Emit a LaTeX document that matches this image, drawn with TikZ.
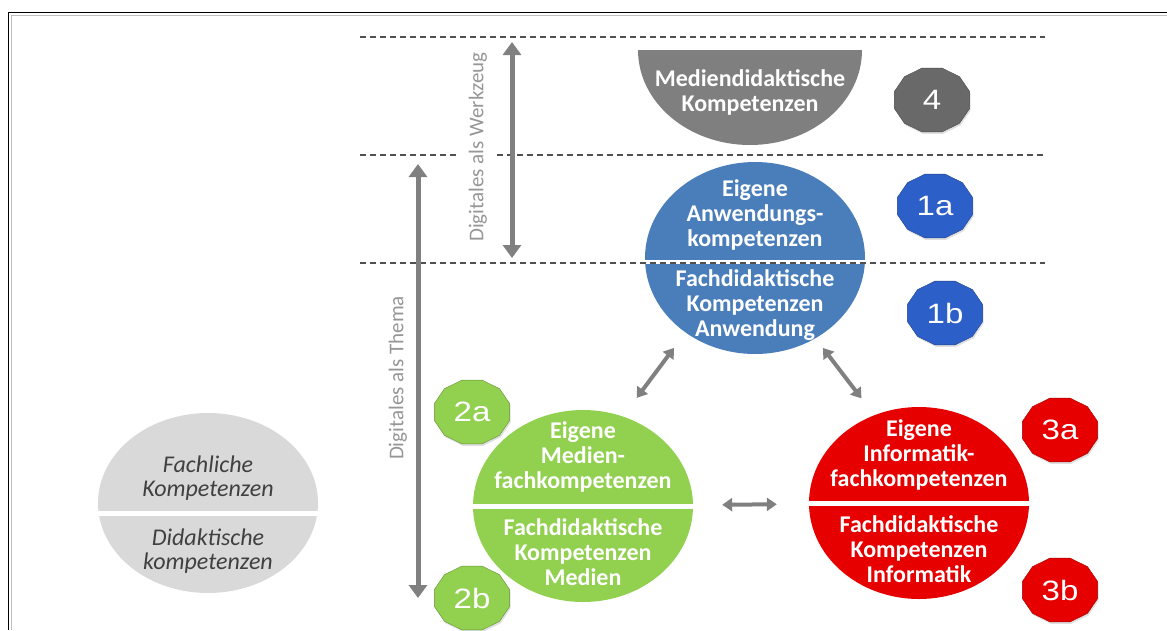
\documentclass[tikz,border=0pt]{standalone}
\usepackage{fontspec}
\setmainfont{Carlito}
\newfontfamily\numfont{Liberation Sans}
\usetikzlibrary{shapes.geometric, arrows.meta, shadows}

\definecolor{mgray}{RGB}{127,127,127}
\definecolor{kgray}{RGB}{105,105,105}
\definecolor{lgray}{RGB}{217,217,217}
\definecolor{tgray}{RGB}{64,64,64}
\definecolor{agray}{RGB}{128,128,128}
\definecolor{dgray}{RGB}{80,80,80}
\definecolor{vgray}{RGB}{150,150,150}
\definecolor{cblue}{RGB}{74,126,187}
\definecolor{kblue}{RGB}{45,95,200}
\definecolor{cgreen}{RGB}{146,208,80}
\definecolor{cred}{RGB}{230,0,0}

\begin{document}
\begin{tikzpicture}[x=1pt, y=-1pt,
  circ/.style={ellipse, minimum width=220, minimum height=192, inner sep=0},
  ctext/.style={align=center, text=white, font=\bfseries\fontsize{24}{25}\selectfont},
  itext/.style={align=center, text=tgray, font=\itshape\fontsize{24}{24}\selectfont},
  vlabel/.style={text=vgray, font=\fontsize{21}{21}\selectfont, rotate=90},
  badge/.style={regular polygon, regular polygon sides=12, minimum size=66, inner sep=0,
    fill=#1, draw=#1!70!black, transform shape, text=white,
    font=\numfont\fontsize{28}{28}\selectfont,
    drop shadow={opacity=0.25, shadow xshift=1pt, shadow yshift=-2pt}},
  dashline/.style={dgray, line width=1.5pt, dash pattern=on 6pt off 4pt},
  bigarrow/.style={{Triangle[width=18pt,length=13pt]}-{Triangle[width=18pt,length=13pt]}, agray, line width=5pt},
  smallarrow/.style={{Triangle[width=13pt,length=10pt]}-{Triangle[width=13pt,length=10pt]}, agray, line width=4pt}]
\useasboundingbox (0,0) rectangle (1167,630);
% frame
\draw [black, line width=1pt] (8,630) -- (8,12) -- (1167,12);
\draw [gray!50, line width=1pt] (11.5,630) -- (11.5,15.5) -- (1167,15.5);
% half circle
\begin{scope}
\clip (630,50) rectangle (870,150);
\fill [mgray] (750,50) ellipse [x radius=112, y radius=95];
\end{scope}
% circles
\node [circ, fill=cblue] (anw) at (755,258) {};
\node [circ, fill=cgreen] (med) at (583,506) {};
\node [circ, fill=cred] (inf) at (919,503) {};
\node [circ, fill=lgray, minimum height=180] (fach) at (208,503) {};
\draw [white, line width=5pt] ([xshift=-5pt]med.west) -- ([xshift=5pt]med.east);
\draw [white, line width=5pt] ([xshift=-5pt]inf.west) -- ([xshift=5pt]inf.east);
\draw [white, line width=5pt] (90,513) -- (330,513);
\draw [white, line width=4pt] (640,262) -- (870,262);
% levels
\draw [dashline] (360,37) -- (1045,37);
\draw [dashline] (360,155) -- (456,155);
\draw [dashline] (497,155) -- (1045,155);
\draw [dashline] (360,263) -- (1045,263);
% texts
\node [ctext] (mdk) at (750,92) {Mediendidaktische\\Kompetenzen};
\node [ctext] (anwa) at (755,215) {Eigene\\Anwendungs-\\kompetenzen};
\node [ctext] (anwb) at (755,305) {Fachdidaktische\\Kompetenzen\\Anwendung};
\node [ctext] (meda) at (583,457) {Eigene\\Medien-\\fachkompetenzen};
\node [ctext] (medb) at (583,552) {Fachdidaktische\\Kompetenzen\\Medien};
\node [ctext] (infa) at (919,455) {Eigene\\Informatik-\\fachkompetenzen};
\node [ctext] (infb) at (919,549) {Fachdidaktische\\Kompetenzen\\Informatik};
\node [itext] (facha) at (208,478) {Fachliche\\Kompetenzen};
\node [itext] (fachb) at (208,551) {Didaktische\\kompetenzen};
% badges
\begin{scope}[shift={(932,100)}, xscale=1.18] \node [badge=kgray] (b4) {4}; \end{scope}
\begin{scope}[shift={(935,206)}, xscale=1.18] \node [badge=kblue] (b1a) {1a}; \end{scope}
\begin{scope}[shift={(945,313)}, xscale=1.18] \node [badge=kblue] (b1b) {1b}; \end{scope}
\begin{scope}[shift={(472,412)}, xscale=1.18] \node [badge=cgreen] (b2a) {2a}; \end{scope}
\begin{scope}[shift={(472,598)}, xscale=1.18] \node [badge=cgreen] (b2b) {2b}; \end{scope}
\begin{scope}[shift={(1060,430)}, xscale=1.18] \node [badge=cred] (b3a) {3a}; \end{scope}
\begin{scope}[shift={(1060,590)}, xscale=1.18] \node [badge=cred] (b3b) {3b}; \end{scope}
% digital axes
\coordinate (wtop) at (512,42);
\coordinate (wbot) at (512,258);
\coordinate (ttop) at (418,164);
\coordinate (tbot) at (418,598);
\draw [bigarrow] (wtop) -- (wbot);
\draw [bigarrow] (ttop) -- (tbot);
\node [vlabel] (werkzeug) at (478,147) {Digitales als Werkzeug};
\node [vlabel] (thema) at (398,378) {Digitales als Thema};
% links
\draw [smallarrow, shorten <=19pt, shorten >=23pt] (anw.227) -- (med.66);
\draw [smallarrow, shorten <=12pt, shorten >=21pt] (anw.307) -- (inf.117);
\draw [smallarrow, shorten <=29pt, shorten >=32pt] (med) -- (inf);
\end{tikzpicture}
\end{document}
